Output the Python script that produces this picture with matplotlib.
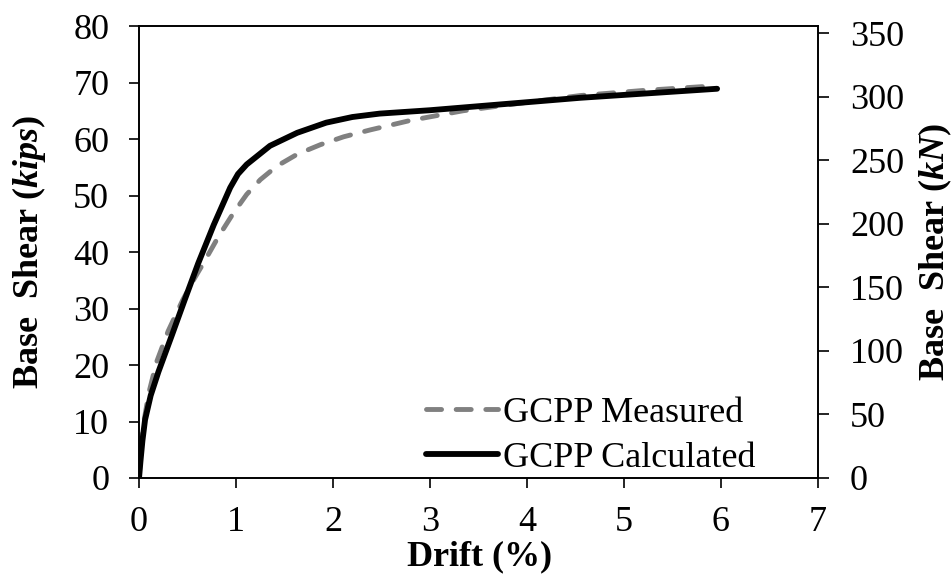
import matplotlib
matplotlib.use("Agg")
import matplotlib.pyplot as plt

plt.rcParams['font.family'] = ['Liberation Serif', 'DejaVu Serif']
plt.rcParams['mathtext.fontset'] = 'custom'
plt.rcParams['mathtext.it'] = 'Liberation Serif:italic:bold'
plt.rcParams['mathtext.rm'] = 'Liberation Serif:bold'
plt.rcParams['mathtext.bf'] = 'Liberation Serif:bold'

# Data (drift %, base shear kips)
measured_drift = [0.0, 0.02, 0.05, 0.10, 0.18, 0.30, 0.45, 0.56, 0.663, 0.818, 0.973, 1.11,
                  1.25, 1.42, 1.63, 1.87, 2.11, 2.38, 2.80, 3.34, 4.00, 4.55, 5.20, 5.92]
measured_shear = [0.0, 5.0, 10.0, 15.0, 20.5, 26.0, 31.5, 35.0, 38.0, 42.7, 46.9, 50.2,
                  52.8, 55.2, 57.3, 59.0, 60.4, 61.6, 63.3, 65.0, 66.5, 67.7, 68.6, 69.4]

calc_drift = [0.0, 0.015, 0.035, 0.062, 0.12, 0.20, 0.337, 0.47, 0.61, 0.77, 0.94, 1.02,
              1.11, 1.35, 1.63, 1.93, 2.20, 2.48, 3.00, 4.55, 5.96]
calc_shear = [0.0, 3.0, 6.6, 10.3, 14.6, 18.8, 25.2, 31.5, 38.0, 44.8, 51.4, 53.8,
              55.5, 58.8, 61.1, 62.9, 63.9, 64.5, 65.1, 67.3, 68.9]

x_ticks = [0, 1, 2, 3, 4, 5, 6, 7]
y_ticks_kips = [0, 10, 20, 30, 40, 50, 60, 70, 80]
y_ticks_kn = [0, 50, 100, 150, 200, 250, 300, 350]
KIP_TO_KN = 4.448

fig = plt.figure(figsize=(9.53, 5.75), dpi=100)
ax = fig.add_axes([0.1459, 0.1687, 0.7124, 0.7860])

ax.plot(measured_drift, measured_shear, color='#808080', lw=3.5, ls=(0, (3.1, 3.0)),
        dash_capstyle='round', label='GCPP Measured')
ax.plot(calc_drift, calc_shear, color='black', lw=4.2, solid_capstyle='round',
        solid_joinstyle='round', label='GCPP Calculated')

ax.set_xlim(0, 7)
ax.set_ylim(0, 80)
ax.set_xticks(x_ticks)
ax.set_yticks(y_ticks_kips)
ax.tick_params(axis='both', direction='out', length=7.5, width=1.2, labelsize=26)
ax.tick_params(axis='y', pad=14)
ax.tick_params(axis='x', pad=13)
for s in ax.spines.values():
    s.set_linewidth(1.2)

ax2 = ax.twinx()
ax2.set_ylim(0, 80 * KIP_TO_KN)
ax2.set_yticks(y_ticks_kn)
ax2.tick_params(axis='y', direction='out', length=8, width=1.2, labelsize=26, pad=15)
for s in ax2.spines.values():
    s.set_linewidth(1.2)

ax.set_xlabel(r'Drift ($\mathit{\%}$)', fontsize=26, fontweight='bold')
ax.set_ylabel(r'Base  Shear ($\mathit{kips}$)', fontsize=26, fontweight='bold')
ax2.set_ylabel(r'Base  Shear ($\mathit{kN}$)', fontsize=26, fontweight='bold')
ax.xaxis.set_label_coords(0.5, -0.135)
ax.yaxis.set_label_coords(-0.134, 0.5)
ax2.yaxis.set_label_coords(1.145, 0.5)

leg = ax.legend(loc='lower right', bbox_to_anchor=(0.93, -0.025), frameon=False, fontsize=26,
                handlelength=2.0, handletextpad=0.15, labelspacing=0.32, borderaxespad=0.0)

fig.savefig('out.png', dpi=100)
